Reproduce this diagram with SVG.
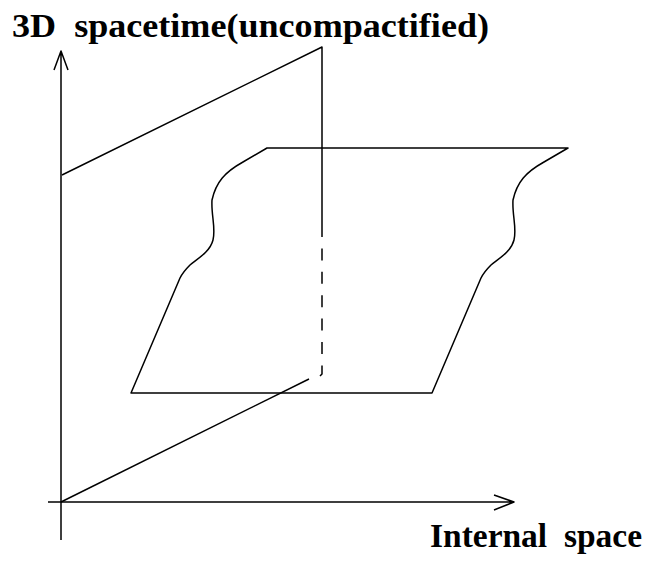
<svg xmlns="http://www.w3.org/2000/svg" width="647" height="562" viewBox="0 0 647 562">
<style>
.ln{fill:none;stroke:#000;stroke-width:1.5;stroke-linecap:butt;stroke-linejoin:round}
.dash{stroke-dasharray:12,11.4}
.lbl{font-family:"Liberation Serif","Times New Roman",serif;font-weight:bold;fill:#000}
</style>
<rect width="647" height="562" fill="#fff"/>
<g id="axes">
<path class="ln" d="M61,540 L61,51 M54,70 L61,51 L68,70"/>
<path class="ln" d="M48,502 L514,502 M494,495 L514,502 L494,510"/>
</g>
<g id="vertical-plane">
<path class="ln" d="M62,175 L322,47 L322,225"/>
<path class="ln dash" d="M322,225 L322,374 L320,376"/>
<path class="ln" d="M61,502 L309,379"/>
</g>
<g id="horizontal-plane">
<path class="ln" d="M267,148 L568,148 L544,162 C526,172 517,182 513,200 C512,215 517,228 514,240 C511,252 498,259 491,265 C486,270 483,274 481,278 L432,393 L131,393 L180,278 C182,274 185,270 190,265 C197,259 210,252 213,240 C216,228 211,215 212,200 C216,182 225,172 243,162 Z"/>
</g>
<g id="labels">
<text class="lbl" x="12" y="37" font-size="34" xml:space="preserve" textLength="477" lengthAdjust="spacingAndGlyphs">3D  spacetime(uncompactified)</text>
<text class="lbl" x="430" y="547" font-size="33" xml:space="preserve" textLength="212" lengthAdjust="spacingAndGlyphs">Internal  space</text>
</g>
</svg>
